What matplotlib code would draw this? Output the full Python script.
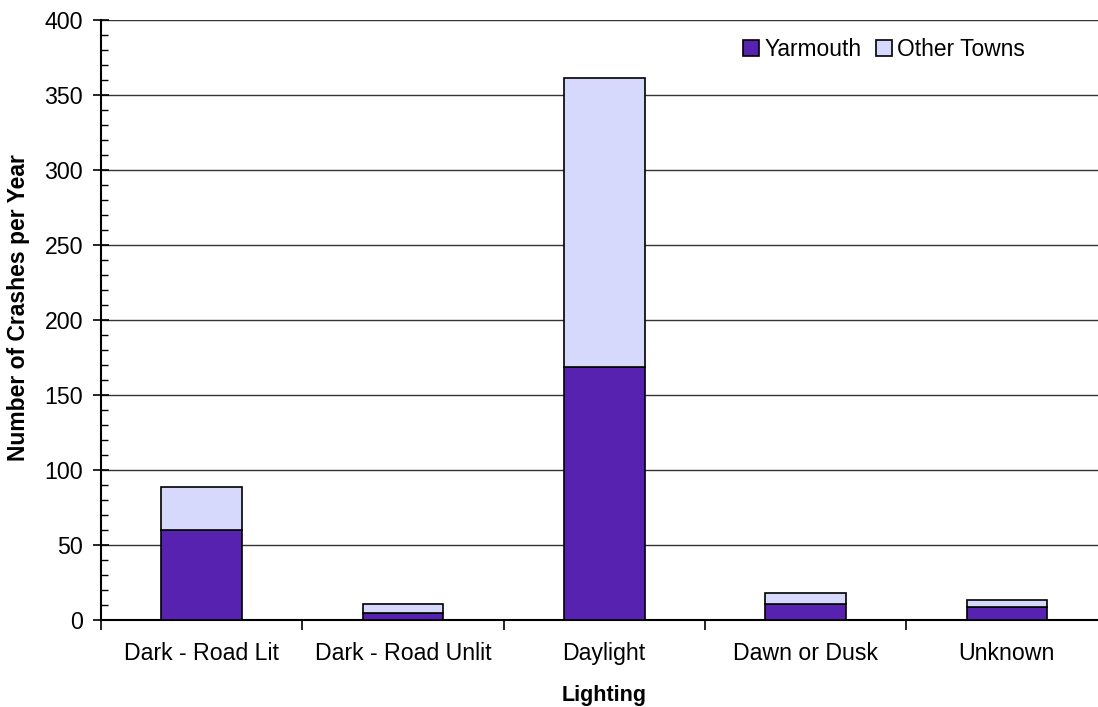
import matplotlib.pyplot as plt
import numpy as np
from matplotlib.ticker import MultipleLocator

plt.rcParams['font.family'] = ['Liberation Sans', 'DejaVu Sans']

categories = ['Dark - Road Lit', 'Dark - Road Unlit', 'Daylight', 'Dawn or Dusk', 'Unknown']
yarmouth = [60, 4.5, 169, 10.9, 8.4]
other_towns = [28.5, 6.2, 192.3, 7.1, 5.1]

fig = plt.figure(figsize=(10.98, 7.07), dpi=100)
ax = fig.add_axes([101 / 1098, 87 / 707, 1006.5 / 1098, 600 / 707])

x = np.arange(len(categories))
ax.bar(x, yarmouth, width=0.4, color='#5822B0', edgecolor='black', linewidth=1.2,
       label='Yarmouth', zorder=3)
ax.bar(x, other_towns, width=0.4, bottom=yarmouth, color='#D6D8FC', edgecolor='black',
       linewidth=1.2, label='Other Towns', zorder=3)

ax.set_xlim(-0.5, len(categories) - 0.5)
ax.set_ylim(0, 400)
ax.yaxis.set_major_locator(MultipleLocator(50))
ax.yaxis.set_minor_locator(MultipleLocator(10))
ax.grid(axis='y', which='major', color='#333333', linewidth=1.0, zorder=0)

ax.set_xticks(x)
ax.set_xticklabels(categories, fontsize=16.7)
ax.set_xticks(np.arange(len(categories) + 1) - 0.5, minor=True)
ax.tick_params(axis='x', which='major', length=0, pad=16)
ax.tick_params(axis='x', which='minor', direction='out', length=7, width=1.2)
ax.tick_params(axis='y', which='major', direction='inout', length=12, width=1.2,
               labelsize=16.7, pad=7)
ax.tick_params(axis='y', which='minor', direction='in', length=5, width=1.0)

for side in ['top', 'right']:
    ax.spines[side].set_visible(False)
ax.spines['left'].set_linewidth(1.5)
ax.spines['bottom'].set_linewidth(1.5)

ax.set_xlabel('Lighting', fontsize=15.5, fontweight='bold', labelpad=14)
ax.set_ylabel('Number of Crashes per Year', fontsize=16.5, fontweight='bold')
ax.yaxis.set_label_coords(-0.0705, 0.52)

ax.legend(loc='upper left', bbox_to_anchor=(0.629, 0.985), ncol=2, frameon=False,
          fontsize=16.4, handlelength=0.7, handleheight=0.7, handletextpad=0.25,
          columnspacing=0.6, borderaxespad=0)

plt.savefig('out.png', dpi=100)
